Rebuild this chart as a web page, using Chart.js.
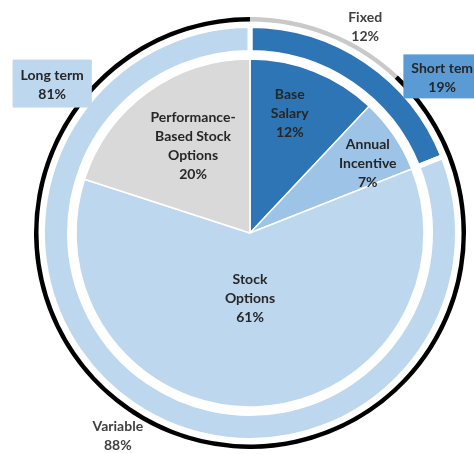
<!DOCTYPE html>
<html>
<head>
<meta charset="utf-8">
<script src="https://cdn.jsdelivr.net/npm/chart.js@4.4.1/dist/chart.umd.min.js"></script>
<style>
  html, body { margin: 0; padding: 0; background: #ffffff; }
  #wrap { width: 474px; height: 454px; }
</style>
</head>
<body>
<div id="wrap"><canvas id="c" width="474" height="454"></canvas></div>
<script>
// ---- data ----
const mixCategories = ['Fixed', 'Variable'];
const mixValues = [12, 88];

const termCategories = ['Short tem', 'Long term'];
const termValues = [19, 81];

const componentCategories = [
  ['Base', 'Salary'],
  ['Annual', 'Incentive'],
  ['Stock', 'Options'],
  ['Performance-', 'Based Stock', 'Options']
];
const componentValues = [12, 7, 61, 20];

// ---- styles ----
const mixColors = ['#c9c9c9', '#000000'];
const termColors = ['#2e75b6', '#bdd7ee'];
const componentColors = ['#2e75b6', '#9dc3e6', '#bdd7ee', '#d9d9d9'];

// label placement (angle in degrees clockwise from top, radius in px from centre)
const labelSpecs = [
  { ds: 4, i: 0, angle: 18.4, r: 126 },
  { ds: 4, i: 1, angle: 59.3, r: 137 },
  { ds: 4, i: 2, angle: 180, r: 65 },
  { ds: 4, i: 3, angle: 326.8, r: 104 },
  { ds: 0, i: 0, angle: 29.2, r: 236, color: '#404040' },
  { ds: 0, i: 1, angle: 213.1, r: 242, color: '#404040' },
  { ds: 2, i: 0, angle: 51.1, r: 247, box: '#5b9bd5', padX: 8, padTop: 10, padBottom: 7 },
  { ds: 2, i: 1, angle: 306.8, r: 247, box: '#bdd7ee', padX: 8, padTop: 12, padBottom: 9 }
];

const spacer = (w) => ({
  data: [1], weight: w, backgroundColor: ['rgba(0,0,0,0)'], borderWidth: 0, label: 'spacer'
});

const labelPlugin = {
  id: 'sliceLabels',
  afterDatasetsDraw(chart) {
    const ctx = chart.ctx;
    const lh = 19;
    ctx.save();
    ctx.font = 'bold 14px Lato, "Open Sans", sans-serif';
    ctx.textAlign = 'center';
    ctx.textBaseline = 'middle';
    labelSpecs.forEach(spec => {
      const ds = chart.data.datasets[spec.ds];
      const arc = chart.getDatasetMeta(spec.ds).data[spec.i];
      const name = ds.categories[spec.i];
      const lines = (Array.isArray(name) ? name.slice() : [name]);
      lines.push(ds.data[spec.i] + '%');
      const a = spec.angle * Math.PI / 180;
      const cx = arc.x + spec.r * Math.sin(a);
      const cy = arc.y - spec.r * Math.cos(a);
      const h = lh * lines.length;
      const top = cy - h / 2 + lh / 2;
      if (spec.box) {
        let w = 0;
        lines.forEach(l => { w = Math.max(w, ctx.measureText(l).width); });
        ctx.fillStyle = spec.box;
        ctx.fillRect(cx - w / 2 - spec.padX, cy - h / 2 - spec.padTop + lh / 2 - 4,
          w + 2 * spec.padX, h + spec.padTop + spec.padBottom - lh + 8);
      }
      ctx.fillStyle = spec.color || '#262626';
      lines.forEach((l, k) => ctx.fillText(l, cx, top + k * lh));
    });
    ctx.restore();
  }
};

new Chart(document.getElementById('c'), {
  type: 'doughnut',
  data: {
    datasets: [
      { label: 'mix', categories: mixCategories, data: mixValues, weight: 4.5,
        backgroundColor: mixColors, borderWidth: 0 },
      spacer(4),
      { label: 'term', categories: termCategories, data: termValues, weight: 27,
        backgroundColor: termColors, borderColor: '#ffffff', borderWidth: 5 },
      spacer(6.5),
      { label: 'components', categories: componentCategories, data: componentValues, weight: 174,
        backgroundColor: componentColors, borderColor: '#ffffff', borderWidth: 1.5 }
    ]
  },
  options: {
    responsive: false,
    animation: false,
    events: [],
    cutout: 0,
    radius: 216,
    hoverOffset: 0,
    layout: { padding: { left: 34, right: 8, top: 17, bottom: 5 } },
    plugins: { legend: { display: false }, tooltip: { enabled: false } }
  },
  plugins: [labelPlugin]
});
</script>
</body>
</html>
